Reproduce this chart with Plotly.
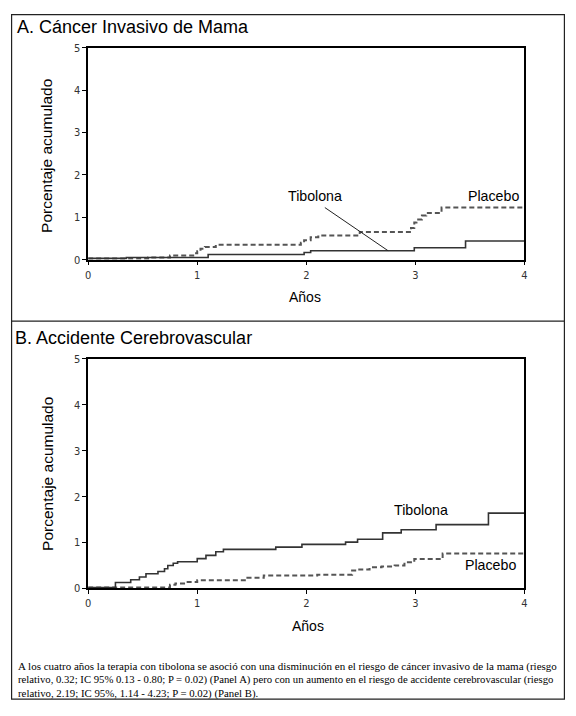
import plotly.graph_objects as go

# --- data (cumulative %, step curves) ---
years_range = [0, 4]
pct_range = [0, 5]
x_ticks = [0, 1, 2, 3, 4]
y_ticks = [0, 1, 2, 3, 4, 5]

# Panel A: cancer invasivo de mama
a_tib_t = [0, 0.35, 1.10, 1.98, 2.04, 2.99, 3.46, 4.0]
a_tib_v = [0.03, 0.05, 0.12, 0.17, 0.21, 0.28, 0.44, 0.44]
a_pla_t = [0, 0.55, 0.75, 0.98, 1.0, 1.03, 1.07, 1.17, 1.95, 1.98, 2.04, 2.11,
           2.49, 2.96, 2.99, 3.01, 3.06, 3.10, 3.24, 4.0]
a_pla_v = [0.03, 0.05, 0.1, 0.15, 0.2, 0.26, 0.3, 0.35, 0.4, 0.46, 0.53, 0.57,
           0.65, 0.75, 0.88, 0.95, 1.04, 1.1, 1.23, 1.23]

# Panel B: accidente cerebrovascular
b_tib_t = [0, 0.25, 0.39, 0.47, 0.53, 0.64, 0.70, 0.73, 0.78, 0.82, 1.0, 1.08,
           1.17, 1.24, 1.72, 1.96, 2.36, 2.47, 2.70, 2.87, 3.19, 3.67, 4.0]
b_tib_v = [0.02, 0.13, 0.19, 0.25, 0.32, 0.37, 0.43, 0.5, 0.55, 0.58, 0.65, 0.72,
           0.8, 0.85, 0.9, 0.96, 1.01, 1.07, 1.21, 1.28, 1.39, 1.64, 1.64]
b_pla_t = [0, 0.75, 0.8, 0.9, 1.0, 1.46, 1.61, 2.1, 2.42, 2.47, 2.58, 2.69,
           2.81, 2.9, 2.99, 3.25, 4.0]
b_pla_v = [0.02, 0.08, 0.11, 0.14, 0.18, 0.23, 0.28, 0.3, 0.39, 0.41, 0.46, 0.48,
           0.5, 0.57, 0.64, 0.76, 0.76]

titles = ["A. Cáncer Invasivo de Mama", "B. Accidente Cerebrovascular"]
y_title = "Porcentaje acumulado"
x_title = "Años"
caption = [
    "A los cuatro años la terapia con tibolona se asoció con una disminución en el riesgo de cáncer invasivo de la mama (riesgo",
    "relativo, 0.32; IC 95% 0.13 - 0.80; P = 0.02) (Panel A) pero con un aumento en el riesgo de accidente cerebrovascular (riesgo",
    "relativo, 2.19; IC 95%, 1.14 - 4.23; P = 0.02) (Panel B).",
]
# the original text is justified; sizes nudged per line so lines 1-2 fill the width
caption_sizes = [11.0, 10.7, 10.8]

# the page body has an 8px margin, so the figure is drawn 8px in from the corner
OFF = 8
W, H = 576 - 2 * OFF, 716 - 2 * OFF


def px(x):
    # reference screen pixel -> paper fraction
    return (x - OFF) / W


def py(y):
    return 1 - (y - OFF) / H


SANS = "Liberation Sans, Arial, sans-serif"
solid_col = "#333333"
dash_col = "#555555"

fig = go.Figure()

panels = [
    ("x", "y", a_tib_t, a_tib_v, a_pla_t, a_pla_v),
    ("x2", "y2", b_tib_t, b_tib_v, b_pla_t, b_pla_v),
]
for xa, ya, tt, tv, pt, pv in panels:
    fig.add_trace(go.Scatter(x=pt, y=pv, xaxis=xa, yaxis=ya, mode="lines",
                             line=dict(shape="hv", color=dash_col, width=2, dash="5px,3px"),
                             name="Placebo", showlegend=False))
    fig.add_trace(go.Scatter(x=tt, y=tv, xaxis=xa, yaxis=ya, mode="lines",
                             line=dict(shape="hv", color=solid_col, width=1.6),
                             name="Tibolona", showlegend=False))

axis_common = dict(showline=True, linecolor="black", linewidth=1.5, mirror=True,
                   ticks="outside", ticklen=4, tickwidth=1, tickcolor="black",
                   showgrid=False, zeroline=False, fixedrange=True,
                   tickfont=dict(family="DejaVu Sans Condensed, DejaVu Sans", size=11, color="#333"))

# plot areas (pixel bounds measured on reference)
a_box = (86, 527, 42.5, 258.3)
b_box = (86, 527, 359.5, 593.3)

fig.update_layout(
    width=W, height=H,
    margin=dict(l=0, r=0, t=0, b=0),
    paper_bgcolor="white", plot_bgcolor="white",
    xaxis=dict(domain=[px(a_box[0]), px(a_box[1])], range=years_range, tickvals=x_ticks,
               anchor="y", **axis_common),
    yaxis=dict(domain=[py(a_box[3]), py(a_box[2])], range=pct_range, tickvals=y_ticks,
               anchor="x", **axis_common),
    xaxis2=dict(domain=[px(b_box[0]), px(b_box[1])], range=years_range, tickvals=x_ticks,
                anchor="y2", **axis_common),
    yaxis2=dict(domain=[py(b_box[3]), py(b_box[2])], range=pct_range, tickvals=y_ticks,
                anchor="x2", **axis_common),
)

ann = []
# panel titles
ann.append(dict(x=px(12), y=py(21), text=titles[0], xanchor="left", yanchor="middle",
                font=dict(family=SANS, size=18, color="black")))
ann.append(dict(x=px(10), y=py(338), text=titles[1], xanchor="left", yanchor="middle",
                font=dict(family=SANS, size=18, color="black")))
# axis titles
for yc, xc in [(153, 44), (477, 45)]:
    ann.append(dict(x=px(xc), y=py(yc), text=y_title, textangle=-90, xanchor="center",
                    yanchor="middle", font=dict(family=SANS, size=15.5, color="black")))
for xc, yc in [(305, 296), (308, 632)]:
    ann.append(dict(x=px(xc), y=py(yc), text=x_title, xanchor="center", yanchor="middle",
                    font=dict(family=SANS, size=14, color="black")))
# series labels
lab_font = dict(family=SANS, size=14.2, color="black")
ann += [
    dict(x=2.08, y=1.51, xref="x", yref="y", text="Tibolona", font=lab_font),
    dict(x=3.72, y=1.51, xref="x", yref="y", text="Placebo", font=lab_font),
    dict(x=3.05, y=1.71, xref="x2", yref="y2", text="Tibolona", font=lab_font),
    dict(x=3.69, y=0.50, xref="x2", yref="y2", text="Placebo", font=lab_font),
]
# caption
for i, line in enumerate(caption):
    ann.append(dict(x=px(13), y=py(673 + i * 13.5), text=line, xanchor="left", yanchor="middle",
                    font=dict(family="Liberation Serif, Times New Roman, serif",
                              size=caption_sizes[i], color="black")))
for a in ann:
    a.setdefault("xref", "paper")
    a.setdefault("yref", "paper")
    a["showarrow"] = False
fig.update_layout(annotations=ann)

shapes = [
    # outer frame and separator
    dict(type="rect", xref="paper", yref="paper", x0=px(8.6), x1=px(567.4), y0=py(706),
         y1=py(8.6), line=dict(color="#222", width=1.2)),
    dict(type="line", xref="paper", yref="paper", x0=px(8.6), x1=px(567.4), y0=py(321),
         y1=py(321), line=dict(color="#222", width=1.2)),
    # pointer from the Tibolona label in panel A
    dict(type="line", xref="x", yref="y", x0=2.17, y0=1.23, x1=2.75, y1=0.21,
         line=dict(color="#222", width=1)),
]
fig.update_layout(shapes=shapes)

fig.write_html("out.html")
